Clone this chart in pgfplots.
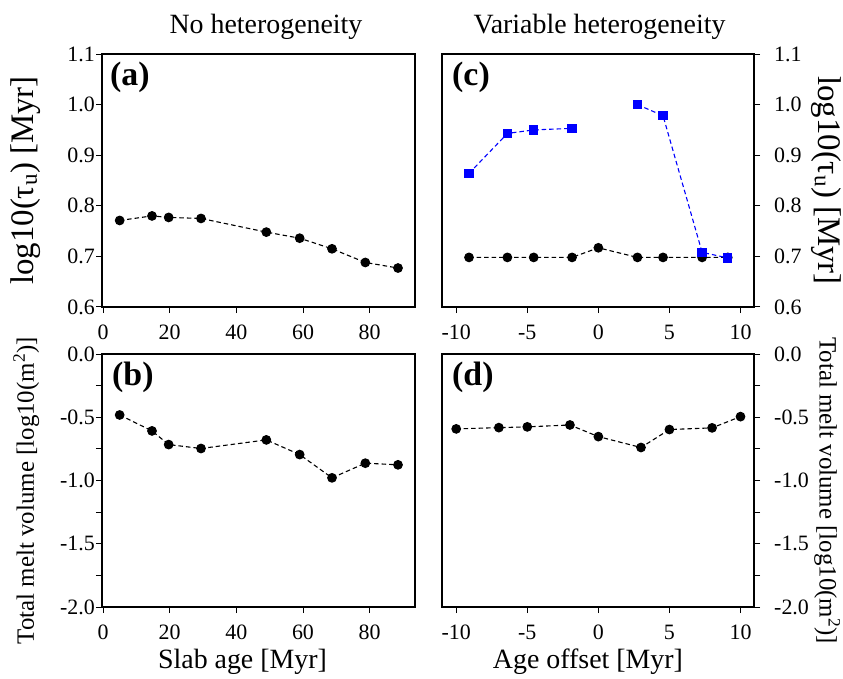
\documentclass[border=0pt]{standalone}
\usepackage{fontspec}
\setmainfont{Liberation Serif}
\usepackage{pgfplots}
\pgfplotsset{compat=1.18}

\definecolor{sqblue}{RGB}{0,0,255}

\pgfplotsset{
  panel/.style={
    scale only axis, width=313bp, height=253bp,
    axis line style={line width=1.6bp},
    tick style={line width=1bp, black},
    tick align=outside,
    major tick length=6bp, minor tick length=6bp,
    xtick pos=bottom,
    tick label style={font=\fontsize{22}{24}\selectfont},
    xticklabel style={inner sep=0pt, yshift=-12bp},
    every axis plot/.append style={line width=1.1bp, dash pattern=on 4.5bp off 3bp},
  },
  tauaxis/.style={ymin=0.6, ymax=1.1, ytick={0.6,0.7,...,1.1},
    yticklabels={0.6,0.7,0.8,0.9,1.0,1.1}},
  meltaxis/.style={ymin=-2, ymax=0, ytick={-2,-1.5,...,0},
    yticklabels={-2.0,-1.5,-1.0,-0.5,0.0},
    minor ytick={-1.75,-1.25,-0.75,-0.25}},
  leftpanel/.style={xmin=-0.3, xmax=93.6, xtick={0,20,...,80},
    xticklabels={0,20,40,60,80}, ytick pos=left,
    yticklabel style={inner sep=0pt, anchor=east, xshift=-1bp}},
  rightpanel/.style={width=312bp, xmin=-11, xmax=10.95, xtick={-10,-5,...,10},
    xticklabels={-10,-5,0,5,10}, ytick pos=right, yticklabel pos=right,
    yticklabel style={inner sep=0pt, anchor=west, xshift=14bp}},
  dots/.style={black, mark=*, mark size=4.3bp, mark options={solid}},
  squares/.style={sqblue, mark=square*, mark size=4.2bp, mark options={solid}},
}

\begin{document}
\begin{tikzpicture}
\useasboundingbox (0,0) rectangle (843bp,-679bp);

% (a) slab age vs tau
\begin{axis}[panel, tauaxis, leftpanel,
  at={(102bp,-54bp)}, anchor=north west,
  title={No heterogeneity},
  title style={at={(axis description cs:0.524,1.085)}, anchor=center, font=\fontsize{28}{30}\selectfont},
  ylabel={log10(τ\textsubscript{u}) [Myr]},
  every axis y label/.style={at={(axis description cs:-0.245,0.5)}, rotate=90, anchor=center, font=\fontsize{33}{35}\selectfont},
]
\addplot[dots] coordinates {
  (5,0.771) (14.7,0.780) (19.7,0.777) (29.4,0.775) (49,0.748)
  (59,0.736) (68.7,0.715) (78.7,0.688) (88.5,0.677)
};
\node[anchor=north west, inner sep=0pt, font=\fontsize{34}{36}\selectfont\bfseries]
  at ([xshift=8bp,yshift=-8bp]rel axis cs:0,1) {(a)};
\end{axis}

% (c) age offset vs tau
\begin{axis}[panel, tauaxis, rightpanel,
  at={(442bp,-54bp)}, anchor=north west,
  title={Variable heterogeneity},
  title style={at={(axis description cs:0.505,1.085)}, anchor=center, font=\fontsize{28}{30}\selectfont},
  ylabel={log10(τ\textsubscript{u}) [Myr]},
  every axis y label/.style={at={(axis description cs:1.232,0.5)}, rotate=-90, anchor=center, font=\fontsize{33}{35}\selectfont},
  unbounded coords=jump,
]
\addplot[dots] coordinates {
  (-9.1,0.698) (-6.4,0.698) (-4.55,0.698) (-1.85,0.698) (0,0.717)
  (2.75,0.698) (4.55,0.698) (7.3,0.698) (9.1,0.698)
};
\addplot[squares] coordinates {
  (-9.1,0.864) (-6.4,0.943) (-4.55,0.950) (-1.85,0.953) (0,nan)
  (2.75,1.000) (4.55,0.978) (7.3,0.708) (9.1,0.697)
};
\node[anchor=north west, inner sep=0pt, font=\fontsize{34}{36}\selectfont\bfseries]
  at ([xshift=10bp,yshift=-8bp]rel axis cs:0,1) {(c)};
\end{axis}

% (b) slab age vs melt volume
\begin{axis}[panel, meltaxis, leftpanel,
  at={(102bp,-354bp)}, anchor=north west,
  xlabel={Slab age [Myr]},
  every axis x label/.style={at={(axis description cs:0.449,-0.217)}, anchor=center, font=\fontsize{28}{30}\selectfont},
  ylabel={Total melt volume [log10(m\textsuperscript{2})]},
  every axis y label/.style={at={(axis description cs:-0.242,0.46)}, rotate=90, anchor=center, font=\fontsize{25}{27}\selectfont},
]
\addplot[dots] coordinates {
  (5,-0.482) (14.7,-0.608) (19.7,-0.716) (29.4,-0.747) (49,-0.679)
  (59,-0.795) (68.7,-0.979) (78.7,-0.863) (88.5,-0.876)
};
\node[anchor=north west, inner sep=0pt, font=\fontsize{34}{36}\selectfont\bfseries]
  at ([xshift=10bp,yshift=-8bp]rel axis cs:0,1) {(b)};
\end{axis}

% (d) age offset vs melt volume
\begin{axis}[panel, meltaxis, rightpanel,
  at={(442bp,-354bp)}, anchor=north west,
  xlabel={Age offset [Myr]},
  every axis x label/.style={at={(axis description cs:0.468,-0.217)}, anchor=center, font=\fontsize{28}{30}\selectfont},
  ylabel={Total melt volume [log10(m\textsuperscript{2})]},
  every axis y label/.style={at={(axis description cs:1.235,0.46)}, rotate=-90, anchor=center, font=\fontsize{25}{27}\selectfont},
]
\addplot[dots] coordinates {
  (-10,-0.592) (-7,-0.582) (-5,-0.576) (-2,-0.561) (0,-0.653)
  (3,-0.739) (5,-0.597) (8,-0.584) (10,-0.495)
};
\node[anchor=north west, inner sep=0pt, font=\fontsize{34}{36}\selectfont\bfseries]
  at ([xshift=10bp,yshift=-8bp]rel axis cs:0,1) {(d)};
\end{axis}
\end{tikzpicture}
\end{document}
